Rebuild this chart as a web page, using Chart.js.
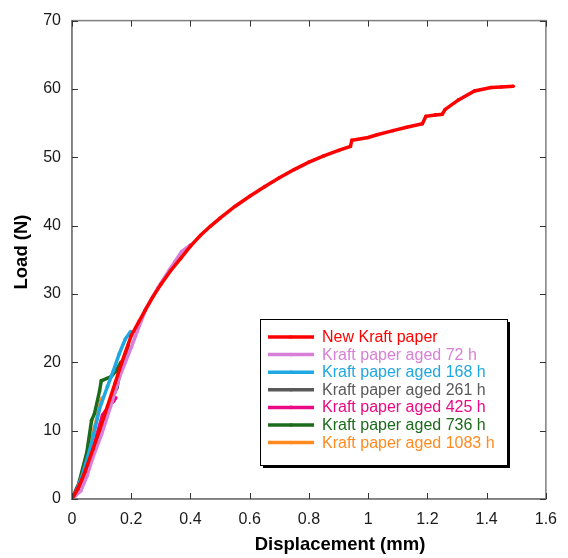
<!DOCTYPE html>
<html>
<head>
<meta charset="utf-8">
<script src="https://cdn.jsdelivr.net/npm/chart.js@4.4.1/dist/chart.umd.min.js"></script>
<style>
  html, body { margin: 0; padding: 0; background: #ffffff; }
  #wrap { width: 568px; height: 558px; position: relative; }
</style>
</head>
<body>
<div id="wrap"><canvas id="c" width="568" height="558"></canvas></div>
<script>
// ---- data ----
const seriesLabels = [
  'New Kraft paper',
  'Kraft paper aged 72 h',
  'Kraft paper aged 168 h',
  'Kraft paper aged 261 h',
  'Kraft paper aged 425 h',
  'Kraft paper aged 736 h',
  'Kraft paper aged 1083 h'
];
const seriesColors = ['#ff0000', '#d87fd9', '#1ea7e1', '#595959', '#ea0a83', '#1c6a1c', '#ff8a1f'];

const newX = [0, 0.02, 0.043, 0.07, 0.093, 0.12, 0.145, 0.169, 0.2, 0.225, 0.247, 0.272, 0.3, 0.333, 0.367, 0.4, 0.434, 0.467, 0.5, 0.55, 0.6, 0.65, 0.7, 0.75, 0.8, 0.85, 0.9, 0.94, 0.945, 1.0, 1.03, 1.084, 1.13, 1.183, 1.195, 1.227, 1.25, 1.26, 1.305, 1.359, 1.415, 1.45, 1.49];
const newY = [0, 1.5, 3.9, 7.2, 10.1, 13.6, 16.9, 20.1, 23.9, 25.9, 27.6, 29.5, 31.4, 33.4, 35.2, 37.0, 38.6, 39.9, 41.1, 42.8, 44.3, 45.7, 47.0, 48.2, 49.3, 50.2, 51.0, 51.6, 52.5, 52.9, 53.3, 53.9, 54.4, 54.9, 56.0, 56.2, 56.3, 57.0, 58.4, 59.7, 60.2, 60.3, 60.4];

const h72X = [0, 0.03, 0.05, 0.07, 0.1, 0.13, 0.16, 0.2, 0.22, 0.25, 0.29, 0.33, 0.347, 0.37, 0.4];
const h72Y = [0, 1.2, 3.3, 6.0, 9.5, 13.5, 17.8, 22.2, 24.5, 27.9, 30.9, 33.6, 34.7, 36.2, 37.2];

const h168X = [0, 0.017, 0.04, 0.065, 0.093, 0.12, 0.14, 0.159, 0.18, 0.198];
const h168Y = [0, 1.3, 4.2, 8.0, 13.2, 16.5, 18.8, 21.2, 23.4, 24.5];

const h261X = [0, 0.016, 0.05, 0.087, 0.12, 0.152, 0.165, 0.18, 0.19];
const h261Y = [0, 1.6, 4.5, 9.0, 13.3, 16.3, 19.2, 21.0, 22.5];

const h425X = [0, 0.03, 0.06, 0.085, 0.103, 0.125, 0.14, 0.148];
const h425Y = [0, 2.0, 5.5, 9.5, 12.3, 13.6, 14.3, 14.8];

const h736X = [0, 0.015, 0.026, 0.05, 0.066, 0.076, 0.093, 0.099, 0.132, 0.148, 0.165];
const h736Y = [0, 1.0, 2.8, 6.8, 11.5, 12.5, 15.8, 17.3, 17.9, 18.7, 20.0];

const h1083X = [0, 0.02, 0.04, 0.06, 0.076, 0.09, 0.098, 0.102];
const h1083Y = [0, 1.8, 4.5, 7.5, 10.5, 12.8, 14.4, 14.8];

const xTickLabels = ['0', '0.2', '0.4', '0.6', '0.8', '1', '1.2', '1.4', '1.6'];
const yTickLabels = ['0', '10', '20', '30', '40', '50', '60', '70'];
const xTitle = 'Displacement (mm)';
const yTitle = 'Load (N)';

// ---- build datasets ----
const allX = [newX, h72X, h168X, h261X, h425X, h736X, h1083X];
const allY = [newY, h72Y, h168Y, h261Y, h425Y, h736Y, h1083Y];
const datasets = seriesLabels.map((lab, i) => ({
  label: lab,
  data: allX[i].map((x, k) => ({ x: x, y: allY[i][k] })),
  showLine: true,
  borderColor: seriesColors[i],
  backgroundColor: seriesColors[i],
  borderWidth: 3.5,
  pointRadius: 1.8,
  pointBorderWidth: 0,
  pointHoverRadius: 0,
  tension: 0
}));

const FONT = '"Liberation Sans", Arial, sans-serif';

const framePlugin = {
  id: 'frame',
  afterDraw(chart) {
    const { ctx, chartArea: a, scales } = chart;
    ctx.save();
    // frame
    ctx.strokeStyle = '#7f7f7f';
    ctx.lineWidth = 1.5;
    ctx.strokeRect(a.left, a.top, a.right - a.left, a.bottom - a.top);
    // inward ticks on all four sides
    ctx.strokeStyle = '#333333';
    ctx.lineWidth = 1;
    const tl = 6;
    scales.x.ticks.forEach(t => {
      const px = Math.round(scales.x.getPixelForValue(t.value)) + 0.5;
      ctx.beginPath();
      ctx.moveTo(px, a.bottom); ctx.lineTo(px, a.bottom - tl);
      ctx.moveTo(px, a.top); ctx.lineTo(px, a.top + tl);
      ctx.stroke();
    });
    scales.y.ticks.forEach(t => {
      const py = Math.round(scales.y.getPixelForValue(t.value)) + 0.5;
      ctx.beginPath();
      ctx.moveTo(a.left, py); ctx.lineTo(a.left + tl, py);
      ctx.moveTo(a.right, py); ctx.lineTo(a.right - tl, py);
      ctx.stroke();
    });
    // axis titles
    ctx.fillStyle = '#000000';
    ctx.font = 'bold 18.5px ' + FONT;
    ctx.textAlign = 'center';
    ctx.textBaseline = 'middle';
    ctx.fillText(xTitle, 340, 545);
    ctx.save();
    ctx.translate(22, 252);
    ctx.rotate(-Math.PI / 2);
    ctx.fillText(yTitle, 0, 0);
    ctx.restore();

    // legend box
    const bx = 260, by = 319, bw = 247, bh = 146;
    ctx.fillStyle = '#000000';
    ctx.fillRect(bx + 3, by + 3, bw, bh);
    ctx.fillStyle = '#ffffff';
    ctx.fillRect(bx, by, bw, bh);
    ctx.strokeStyle = '#000000';
    ctx.lineWidth = 1;
    ctx.strokeRect(bx + 0.5, by + 0.5, bw, bh);
    ctx.font = '16px ' + FONT;
    ctx.textAlign = 'left';
    ctx.textBaseline = 'middle';
    chart.data.datasets.forEach((ds, i) => {
      const y = 337 + i * 17.6;
      ctx.strokeStyle = ds.borderColor;
      ctx.lineWidth = 3.5;
      ctx.beginPath();
      ctx.moveTo(268, y); ctx.lineTo(314, y);
      ctx.stroke();
      ctx.fillStyle = ds.borderColor;
      ctx.beginPath();
      ctx.arc(291, y, 1.8, 0, Math.PI * 2);
      ctx.fill();
      ctx.fillText(ds.label, 322, y + 0.5);
    });
    ctx.restore();
  }
};

new Chart(document.getElementById('c'), {
  type: 'scatter',
  data: { datasets: datasets },
  options: {
    responsive: false,
    animation: false,
    events: [],
    layout: { padding: { left: 0, top: 17, right: 12, bottom: 0 } },
    plugins: { legend: { display: false }, tooltip: { enabled: false } },
    scales: {
      x: {
        type: 'linear', min: 0, max: 1.6,
        afterFit(s) { s.height = 59; },
        grid: { display: false, drawTicks: false },
        border: { display: true, color: '#7f7f7f', width: 1.5 },
        ticks: {
          stepSize: 0.2, padding: 11, color: '#1a1a1a',
          font: { family: FONT, size: 16 },
          callback: (v, i) => xTickLabels[i]
        }
      },
      y: {
        type: 'linear', min: 0, max: 70,
        afterFit(s) { s.width = 72; },
        grid: { display: false, drawTicks: false },
        border: { display: true, color: '#7f7f7f', width: 1.5 },
        ticks: {
          stepSize: 10, padding: 11, color: '#1a1a1a',
          font: { family: FONT, size: 16 },
          callback: (v, i) => yTickLabels[i]
        }
      }
    }
  },
  plugins: [framePlugin]
});
</script>
</body>
</html>
